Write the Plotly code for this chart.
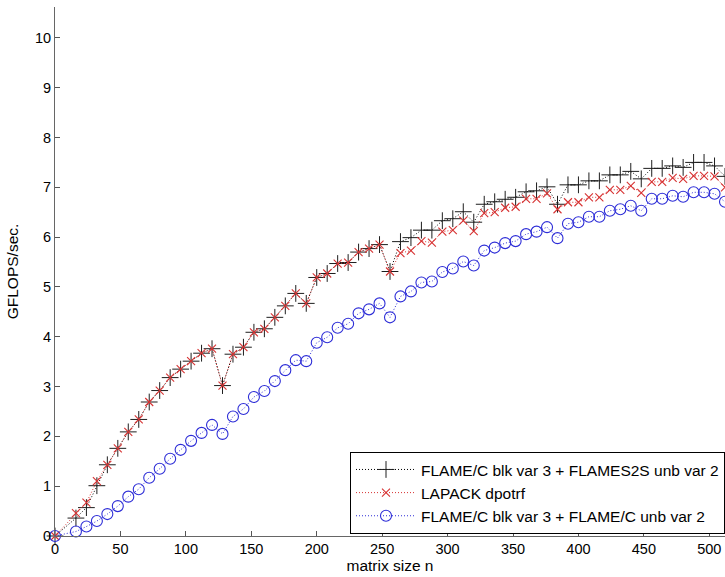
import plotly.graph_objects as go

n = [0, 16, 24, 32, 40, 48, 56, 64, 72, 80, 88, 96, 104, 112, 120, 128,
     136, 144, 152, 160, 168, 176, 184, 192, 200, 208, 216, 224, 232, 240,
     248, 256, 264, 272, 280, 288, 296, 304, 312, 320, 328, 336, 344, 352,
     360, 368, 376, 384, 392, 400, 408, 416, 424, 432, 440, 448, 456, 464,
     472, 480, 488, 496, 504, 512]

flames2s = [0, 0.36, 0.57, 1.01, 1.43, 1.76, 2.09, 2.34, 2.69, 2.92, 3.18, 3.35,
            3.51, 3.67, 3.76, 3.02, 3.65, 3.79, 4.09, 4.16, 4.39, 4.62, 4.87, 4.67,
            5.19, 5.27, 5.47, 5.49, 5.70, 5.77, 5.85, 5.31, 5.91, 5.99, 6.14, 6.14,
            6.33, 6.37, 6.51, 6.30, 6.66, 6.71, 6.76, 6.80, 6.91, 6.93, 7.01, 6.66,
            7.05, 7.05, 7.13, 7.13, 7.25, 7.25, 7.32, 7.17, 7.38, 7.38, 7.43, 7.40,
            7.50, 7.50, 7.43, 7.22]

lapack = [0, 0.46, 0.67, 1.10, 1.43, 1.76, 2.09, 2.34, 2.69, 2.92, 3.18, 3.35,
          3.51, 3.67, 3.76, 3.02, 3.65, 3.79, 4.09, 4.16, 4.39, 4.62, 4.87, 4.67,
          5.19, 5.27, 5.47, 5.49, 5.70, 5.77, 5.85, 5.31, 5.68, 5.73, 5.92, 5.89,
          6.11, 6.14, 6.33, 6.12, 6.48, 6.50, 6.59, 6.61, 6.77, 6.77, 6.88, 6.56,
          6.70, 6.70, 6.80, 6.80, 6.95, 6.95, 7.03, 6.89, 7.11, 7.11, 7.19, 7.17,
          7.23, 7.23, 7.22, 7.00]

flamec = [0, 0.09, 0.19, 0.30, 0.44, 0.60, 0.79, 0.94, 1.17, 1.35, 1.55, 1.73,
          1.91, 2.07, 2.23, 2.05, 2.40, 2.55, 2.79, 2.91, 3.11, 3.33, 3.53, 3.51,
          3.88, 3.99, 4.18, 4.26, 4.47, 4.55, 4.67, 4.39, 4.81, 4.91, 5.09, 5.11,
          5.30, 5.37, 5.51, 5.43, 5.73, 5.79, 5.88, 5.92, 6.06, 6.11, 6.20, 5.98,
          6.27, 6.30, 6.41, 6.41, 6.53, 6.56, 6.63, 6.53, 6.77, 6.77, 6.83, 6.81,
          6.90, 6.90, 6.87, 6.71]

names = ["FLAME/C blk var 3 + FLAMES2S unb var 2",
         "LAPACK dpotrf",
         "FLAME/C blk var 3 + FLAME/C unb var 2"]

x_ticks = [0, 50, 100, 150, 200, 250, 300, 350, 400, 450, 500]
y_ticks = [0, 1, 2, 3, 4, 5, 6, 7, 8, 9, 10]

RED = "rgb(215,50,50)"
BLUE = "rgb(45,45,215)"

fig = go.Figure()
fig.add_trace(go.Scatter(
    x=n, y=flames2s, name=names[0], mode="lines+markers",
    line=dict(color="black", width=1, dash="1px,2px"),
    marker=dict(symbol="cross-thin", size=12, line=dict(color="rgb(30,30,30)", width=1)),
    cliponaxis=False))
fig.add_trace(go.Scatter(
    x=n, y=lapack, name=names[1], mode="lines+markers",
    line=dict(color=RED, width=1, dash="1px,2px"),
    marker=dict(symbol="x-thin", size=8, line=dict(color=RED, width=1.1)),
    cliponaxis=False))
fig.add_trace(go.Scatter(
    x=n, y=flamec, name=names[2], mode="lines+markers",
    line=dict(color=BLUE, width=1, dash="1px,2px"),
    marker=dict(symbol="circle-open", size=11, color=BLUE,
                line=dict(color=BLUE, width=1.1)),
    cliponaxis=False))

font_family = "Liberation Sans, Arial, sans-serif"

fig.update_layout(
    width=725, height=577,
    margin=dict(l=55, r=0, t=7, b=41, autoexpand=False),
    paper_bgcolor="white", plot_bgcolor="white",
    font=dict(family=font_family, size=14, color="black"),
    showlegend=True,
    legend=dict(
        x=1.0, y=0.004, xanchor="right", yanchor="bottom",
        bgcolor="white", bordercolor="black", borderwidth=1,
        font=dict(size=15.5, family=font_family, color="black"),
        itemwidth=60, tracegroupgap=0,
    ),
    xaxis=dict(
        range=[0, 512], tickvals=x_ticks, ticks="inside", ticklen=5,
        tickcolor="#555", showline=True, linecolor="#666", linewidth=1,
        showgrid=False, zeroline=False,
        tickfont=dict(size=14.5),
        title=dict(text="matrix size n", font=dict(size=15.5), standoff=2),
    ),
    yaxis=dict(
        range=[0, 10.62], tickvals=y_ticks, ticks="inside", ticklen=5,
        tickcolor="#555", showline=True, linecolor="#666", linewidth=1,
        showgrid=False, zeroline=False,
        tickfont=dict(size=14.5),
        title=dict(text="GFLOPS/sec.", font=dict(size=15.5), standoff=12),
    ),
)

fig.write_html("out.html",
               config={"displayModeBar": False},
               post_script="document.body.style.margin='0px';document.body.style.overflow='hidden';")
